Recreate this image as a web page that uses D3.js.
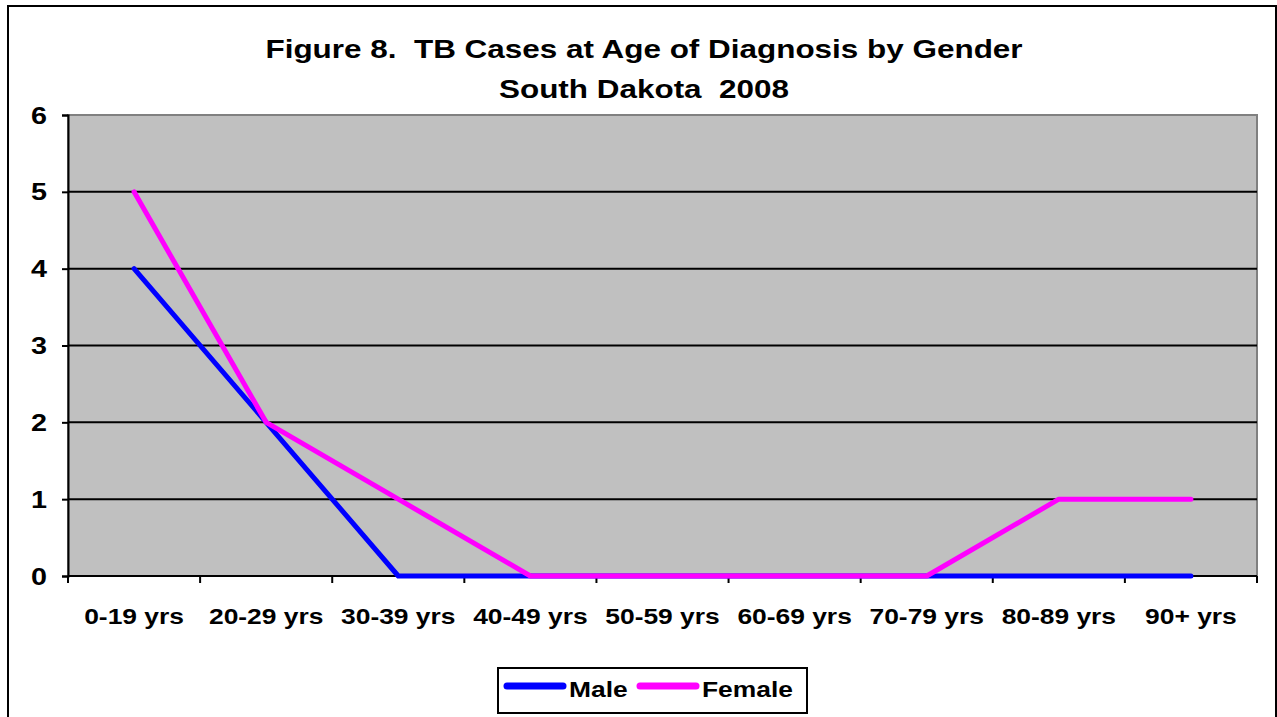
<!DOCTYPE html>
<html>
<head>
<meta charset="utf-8">
<script src="https://cdn.jsdelivr.net/npm/d3@7"></script>
<style>
  body { margin: 0; background: #fff; }
  svg text { font-family: Arial, "Liberation Sans", sans-serif; font-weight: bold; fill: #000; white-space: pre; }
</style>
</head>
<body>
<div id="chart"></div>
<script>
var ageGroups = ["0-19 yrs", "20-29 yrs", "30-39 yrs", "40-49 yrs", "50-59 yrs",
                 "60-69 yrs", "70-79 yrs", "80-89 yrs", "90+ yrs"];
var maleCases = [4, 2, 0, 0, 0, 0, 0, 0, 0];
var femaleCases = [5, 2, 1, 0, 0, 0, 0, 1, 1];
var yTicks = [0, 1, 2, 3, 4, 5, 6];
var titleLines = ["Figure 8.  TB Cases at Age of Diagnosis by Gender", "South Dakota  2008"];

var W = 1277, H = 717;
var plot = { left: 68, top: 115, right: 1257, bottom: 576 };
var stretch = 1.2; // the original picture is stretched sideways

var svg = d3.select("#chart").append("svg")
  .attr("width", W)
  .attr("height", H);

// outer chart frame
svg.append("rect")
  .attr("x", 8).attr("y", 6)
  .attr("width", 1268).attr("height", 730)
  .attr("fill", "#fff")
  .attr("stroke", "#000")
  .attr("stroke-width", 2);

// title
svg.selectAll("text.title")
  .data(titleLines)
  .enter()
  .append("text")
  .attr("class", "title")
  .attr("text-anchor", "middle")
  .attr("font-size", "26px")
  .attr("transform", function (d, i) { return "translate(644," + (58 + i * 40) + ") scale(1.21,1)"; })
  .text(function (d) { return d; });

var x = d3.scaleBand()
  .domain(ageGroups)
  .range([plot.left, plot.right]);
var y = d3.scaleLinear()
  .domain([0, 6])
  .range([plot.bottom, plot.top]);

// plot background
svg.append("rect")
  .attr("x", plot.left).attr("y", plot.top)
  .attr("width", plot.right - plot.left)
  .attr("height", plot.bottom - plot.top)
  .attr("fill", "#c0c0c0")
  .attr("stroke", "#808080")
  .attr("stroke-width", 2);

// gridlines
svg.append("g")
  .selectAll("line")
  .data(yTicks.filter(function (d) { return d > 0 && d < 6; }))
  .enter()
  .append("line")
  .attr("x1", plot.left).attr("x2", plot.right)
  .attr("y1", function (d) { return y(d); })
  .attr("y2", function (d) { return y(d); })
  .attr("stroke", "#000")
  .attr("stroke-width", 2);

// y axis
var yAxis = svg.append("g")
  .attr("transform", "translate(" + plot.left + ",0)")
  .call(d3.axisLeft(y).tickValues(yTicks).tickSize(6).tickFormat(d3.format("d")));
yAxis.select(".domain").attr("stroke", "#000").attr("stroke-width", 2);
yAxis.selectAll(".tick line").attr("stroke", "#000").attr("stroke-width", 2);
yAxis.selectAll(".tick text")
  .attr("font-size", "23px")
  .attr("x", null).attr("dy", null)
  .attr("text-anchor", "end")
  .attr("transform", "translate(-21,8) scale(1.25,1)");

// x axis: labels centred, ticks on category boundaries
var xAxis = svg.append("g")
  .attr("transform", "translate(0," + plot.bottom + ")")
  .call(d3.axisBottom(x).tickSize(0).tickPadding(0));
xAxis.select(".domain").remove();
xAxis.selectAll(".tick text")
  .attr("font-size", "22px")
  .attr("y", null).attr("dy", null)
  .attr("transform", "translate(0,48) scale(" + stretch + ",1)");

svg.append("line")
  .attr("x1", plot.left).attr("x2", plot.right)
  .attr("y1", plot.bottom).attr("y2", plot.bottom)
  .attr("stroke", "#000").attr("stroke-width", 2);
svg.append("g")
  .selectAll("line")
  .data(d3.range(ageGroups.length + 1))
  .enter()
  .append("line")
  .attr("x1", function (i) { return plot.left + i * x.step(); })
  .attr("x2", function (i) { return plot.left + i * x.step(); })
  .attr("y1", plot.bottom).attr("y2", plot.bottom + 7)
  .attr("stroke", "#000").attr("stroke-width", 2);

// series
var series = [
  { name: "Male", values: maleCases, color: "#0000ff" },
  { name: "Female", values: femaleCases, color: "#ff00ff" }
];
var line = d3.line()
  .x(function (d, i) { return x(ageGroups[i]) + x.bandwidth() / 2; })
  .y(function (d) { return y(d); });

svg.selectAll("path.series")
  .data(series)
  .enter()
  .append("path")
  .attr("class", "series")
  .attr("d", function (s) { return line(s.values); })
  .attr("fill", "none")
  .attr("stroke", function (s) { return s.color; })
  .attr("stroke-width", 5)
  .attr("stroke-linejoin", "round")
  .attr("stroke-linecap", "round");

// legend
var legend = svg.append("g");
legend.append("rect")
  .attr("x", 498).attr("y", 668)
  .attr("width", 309).attr("height", 45)
  .attr("fill", "#fff")
  .attr("stroke", "#000")
  .attr("stroke-width", 2);
var legendX = [505, 638];
var items = legend.selectAll("g.item")
  .data(series)
  .enter()
  .append("g")
  .attr("transform", function (d, i) { return "translate(" + legendX[i] + ",686)"; });
items.append("line")
  .attr("x1", 2).attr("x2", 58)
  .attr("stroke", function (d) { return d.color; })
  .attr("stroke-width", 7)
  .attr("stroke-linecap", "round");
items.append("text")
  .attr("font-size", "22px")
  .attr("transform", "translate(64,11) scale(" + stretch + ",1)")
  .text(function (d) { return d.name; });
</script>
</body>
</html>
